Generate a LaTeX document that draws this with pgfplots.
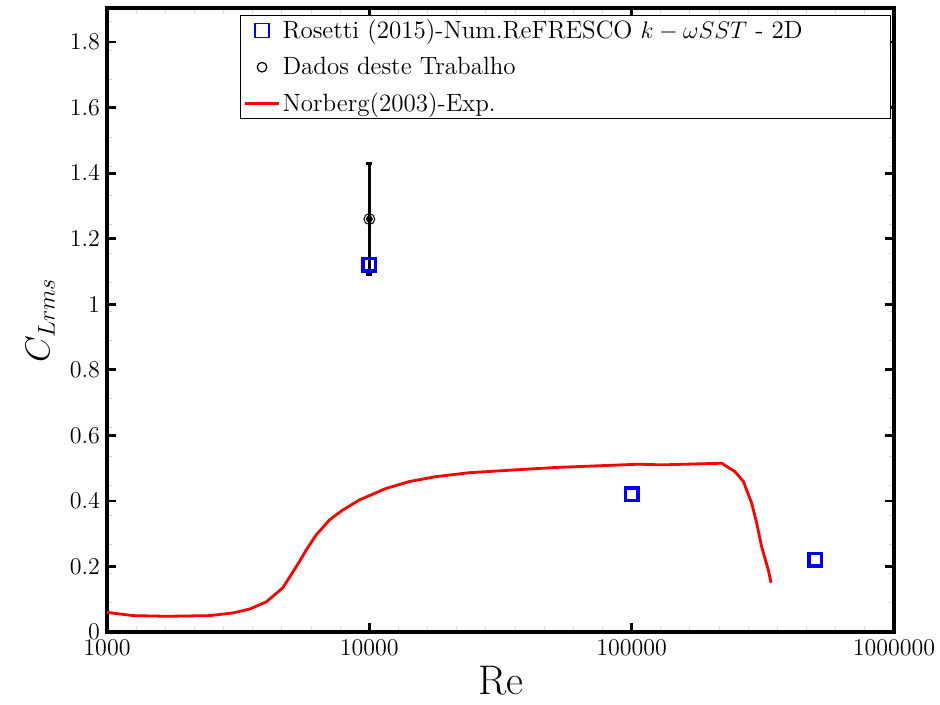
\documentclass[border=0pt]{standalone}
\usepackage{pgfplots}
\pgfplotsset{compat=1.18}
\usepackage{pgfplotstable}
\usetikzlibrary{calc}

% Norberg (2003) experimental curve
\pgfplotstableread{
Re CL
1000 0.060
1256 0.050
1687 0.048
2464 0.050
3013 0.058
3498 0.070
4047 0.092
4670 0.134
4892 0.159
5417 0.215
5744 0.250
6271 0.296
7046 0.342
7915 0.372
9162 0.403
11575 0.438
14190 0.459
17930 0.474
24000 0.486
30320 0.491
51280 0.502
106300 0.512
130400 0.510
220400 0.515
247900 0.489
266700 0.459
286700 0.393
299600 0.332
313000 0.260
331800 0.189
339800 0.150
}\norberg

% Rosetti (2015) numerical results
\pgfplotstableread{
Re CL
10000 1.12
100000 0.42
500000 0.22
}\rosetti

\begin{document}
\begin{tikzpicture}
\begin{axis}[
  scale only axis,
  width=393.5pt, height=312pt,
  xmode=log,
  xmin=1000, xmax=1000000,
  ymin=0, ymax=1.904,
  xtick={1000,10000,100000,1000000},
  xticklabels={1000,10000,100000,1000000},
  ytick={0,0.2,0.4,0.6,0.8,1,1.2,1.4,1.6,1.8},
  minor xtick={1291.5,1668.1,2154.4,2782.6,3593.8,4641.6,5994.8,7742.6,
               12915,16681,21544,27826,35938,46416,59948,77426,
               129150,166810,215440,278260,359380,464160,599480,774260},
  minor ytick={0.0915,0.18,0.2685,0.357,0.4455,0.534,0.6225,0.711,0.7995,0.888,0.9765,1.065,1.1535,1.242,1.3305,1.419,1.5075,1.596,1.6845,1.773,1.8615},
  axis line style={line width=1.6pt},
  major tick style={line width=1.4pt, black},
  major tick length=4.5pt,
  minor tick style={gray!35, line width=0.5pt},
  minor tick length=2.5pt,
  tick align=inside,
  tick label style={font=\fontsize{12}{14}\selectfont},
  xlabel={Re},
  xlabel style={font=\fontsize{20.7}{24}\selectfont, at={(axis description cs:0.5,0)}, anchor=center, yshift=-24.5pt},
  ylabel={$C_{Lrms}$},
  ylabel style={font=\fontsize{17.3}{20}\selectfont, at={(axis description cs:-0.085,0.5)}, anchor=center, rotate=0},
  legend cell align=left,
  legend style={
    at={(rel axis cs:0.9962,0.9888)}, anchor=north east,
    draw=black, line width=0.5pt, fill=white,
    font=\fontsize{12.5}{15}\selectfont,
    inner xsep=1.5pt, inner ysep=0.2pt,
    nodes={inner xsep=1pt, inner ysep=2pt},
    row sep=3.7pt,
  },
]
% experimental curve
\addplot[red, line width=1.4pt, forget plot] table[x=Re, y=CL] {\norberg};

% present work with its error bar
\addplot[black, line width=1.3pt, mark=none, forget plot,
  error bars/.cd, y dir=both, y explicit,
  error mark=|,
  error bar style={line width=1.3pt},
  error mark options={line width=1.3pt, mark size=1.5pt}]
  coordinates {(10000,1.26) +- (0,0.17)};
\addplot[black, only marks, mark=o, mark size=2.7pt, line width=0.5pt, forget plot]
  coordinates {(10000,1.26)};
\addplot[black, only marks, mark=*, mark size=1.5pt, forget plot]
  coordinates {(10000,1.26)};

% numerical results
\addplot[blue, only marks, mark=square, mark size=3.1pt, line width=1.7pt, forget plot]
  table[x=Re, y=CL] {\rosetti};

% legend entries
\addlegendimage{blue, only marks, mark=square, mark size=3.5pt, line width=0.6pt, mark options={draw=blue}}
\addlegendentry{\makebox[301.5pt][l]{Rosetti (2015)-Num.ReFRESCO $k-\omega SST$ - 2D}}
\addlegendimage{black, only marks, mark=o, mark size=2.4pt, line width=0.6pt}
\addlegendentry{Dados deste Trabalho}
\addlegendimage{red, line width=1.4pt}
\addlegendentry{Norberg(2003)-Exp.}
\end{axis}
\pgfresetboundingbox
\path ($(current axis.south west)+(-53.5pt,-36pt)$) rectangle ($(current axis.north east)+(23pt,4pt)$);
\end{tikzpicture}
\end{document}
